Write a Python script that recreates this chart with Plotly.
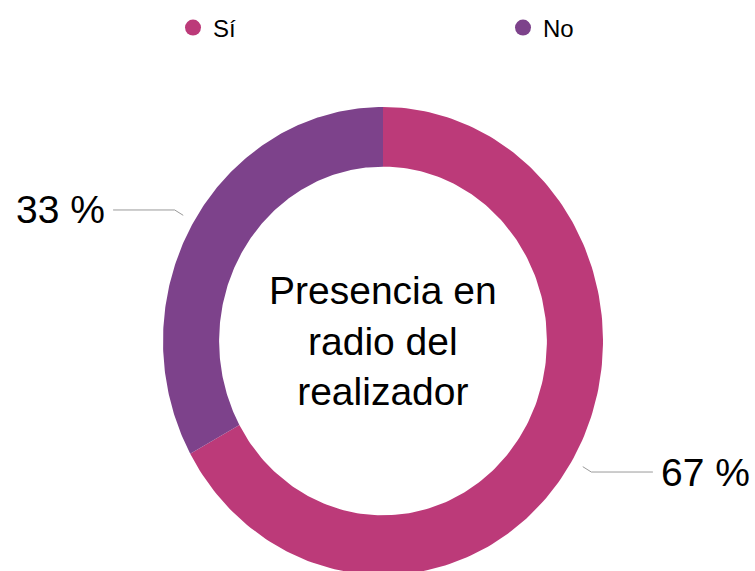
import numpy as np
import plotly.graph_objects as go

# ---- data ----
categories = ["Sí", "No"]
values = [67, 33]
label_texts = ["67 %", "33 %"]
center_title = "Presencia en<br>radio del<br>realizador"
colors = ["#BC3A79", "#7D428B"]

# ---- geometry / style constants ----
W, H = 755, 571
CX, CY = 383, 341          # donut centre in px
RX, RY = 220, 234          # px per unit (x, y)
HOLE = 0.745
FONT = "Liberation Sans, Arial, Helvetica, sans-serif"
legend_px = [193, 523]     # legend circle centres (px)
LEGEND_Y = 28

x_range = [-CX / RX, (W - CX) / RX]
y_range = [-(H - CY) / RY, CY / RY]

fig = go.Figure()

total = float(sum(values))
start = 0.0
mids = []
for cat, val, col in zip(categories, values, colors):
    a0 = start / total * 2 * np.pi
    a1 = (start + val) / total * 2 * np.pi
    th = np.linspace(a0, a1, 200)
    xo, yo = np.sin(th), np.cos(th)
    xi, yi = HOLE * np.sin(th[::-1]), HOLE * np.cos(th[::-1])
    fig.add_trace(go.Scatter(
        x=np.concatenate([xo, xi, xo[:1]]),
        y=np.concatenate([yo, yi, yo[:1]]),
        fill="toself", mode="lines", line=dict(width=0, color=col),
        fillcolor=col, name=cat, legendgroup=cat, showlegend=False,
        hoverinfo="text", hoveron="fills", text=f"{cat}: {val} %",
    ))
    mids.append((a0 + a1) / 2)
    start += val

# legend entries (circle markers), one legend per entry for exact placement
legend_ids = ["legend", "legend2"]
for cat, col, lid in zip(categories, colors, legend_ids):
    fig.add_trace(go.Scatter(
        x=[None], y=[None], mode="markers", name=cat, legendgroup=cat,
        legend=lid, marker=dict(color=col, size=24, symbol="circle"),
    ))

# leader lines and outside labels
for txt, m in zip(label_texts, mids):
    sx, sy = np.sin(m), np.cos(m)
    side = 1 if sx >= 0 else -1
    p1 = (1.055 * sx, 1.055 * sy)
    p2 = (1.10 * sx, 1.10 * sy)
    p3 = (p2[0] + side * 0.28, p2[1])
    fig.add_trace(go.Scatter(
        x=[p1[0], p2[0], p3[0]], y=[p1[1], p2[1], p3[1]],
        mode="lines", line=dict(color="#9a9a9a", width=1),
        showlegend=False, hoverinfo="skip",
    ))
    fig.add_annotation(
        x=p3[0], y=p3[1], text=txt, showarrow=False,
        xanchor="left" if side > 0 else "right", yanchor="middle",
        xshift=6 * side, yshift=0,
        font=dict(family=FONT, size=39, color="#000000"),
    )

# centre text
fig.add_annotation(
    x=0, y=0, text=center_title, showarrow=False,
    xanchor="center", yanchor="middle",
    font=dict(family=FONT, size=39, color="#000000"),
)

leg_common = dict(
    orientation="h", xanchor="left", yanchor="middle",
    y=1 - LEGEND_Y / H,
    font=dict(family=FONT, size=24, color="#000000"),
    bgcolor="rgba(0,0,0,0)", borderwidth=0,
)

fig.update_layout(
    width=W, height=H,
    margin=dict(l=0, r=0, t=0, b=0),
    paper_bgcolor="white", plot_bgcolor="white",
    xaxis=dict(range=x_range, visible=False, fixedrange=True),
    yaxis=dict(range=y_range, visible=False, fixedrange=True),
    showlegend=True,
    legend=dict(x=(legend_px[0] - 20) / W, **leg_common),
    legend2=dict(x=(legend_px[1] - 20) / W, **leg_common),
)

fig.write_html(
    "out.html",
    config={"displayModeBar": False},
    post_script="document.body.style.margin='0';",
)
